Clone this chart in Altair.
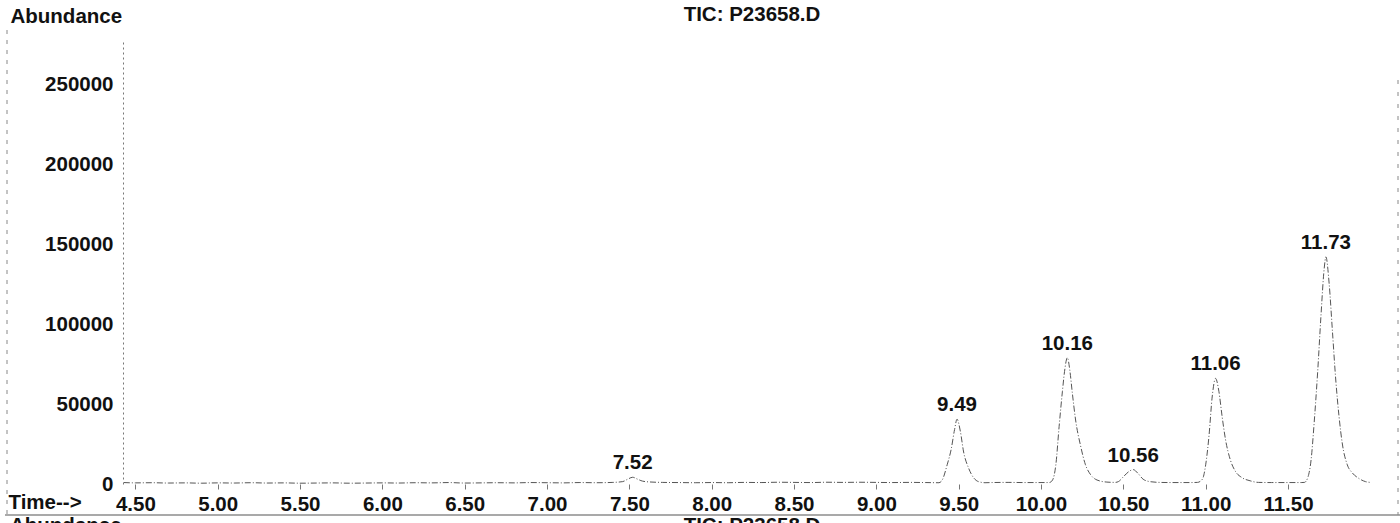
import altair as alt
import pandas as pd

# Trace (retention time in minutes, abundance)
trace_time = [
    4.43, 4.50, 4.60, 4.70, 4.80, 4.90, 5.00, 5.10, 5.20, 5.30, 5.40, 5.50,
    5.60, 5.70, 5.80, 5.90, 6.00, 6.10, 6.20, 6.30, 6.40, 6.50, 6.60, 6.70,
    6.80, 6.90, 7.00, 7.10, 7.20, 7.30, 7.40, 7.46, 7.49, 7.52, 7.55, 7.58,
    7.62, 7.70, 7.80, 7.90, 8.00, 8.10, 8.20, 8.30, 8.40, 8.50, 8.60, 8.70,
    8.80, 8.90, 9.00, 9.10, 9.20, 9.30, 9.38, 9.40, 9.43, 9.455, 9.475, 9.49,
    9.51, 9.53, 9.56, 9.59, 9.62, 9.66, 9.70, 9.80, 9.90, 10.00, 10.05, 10.07,
    10.09, 10.11, 10.13, 10.145, 10.16, 10.175, 10.19, 10.21, 10.24, 10.27, 10.30, 10.34,
    10.40, 10.45, 10.47, 10.50, 10.53, 10.56, 10.59, 10.62, 10.66, 10.72, 10.80, 10.90,
    10.95, 10.98, 11.00, 11.02, 11.04, 11.06, 11.08, 11.10, 11.12, 11.15, 11.18, 11.22,
    11.27, 11.32, 11.40, 11.50, 11.58, 11.60, 11.62, 11.64, 11.66, 11.68, 11.70, 11.72,
    11.73, 11.75, 11.77, 11.79, 11.81, 11.83, 11.86, 11.89, 11.93, 11.97, 12.00,
]
trace_abundance = [
    900, 700, 800, 600, 700, 500, 700, 600, 800, 600, 700, 500,
    600, 700, 500, 600, 700, 600, 800, 700, 900, 600, 700, 800,
    700, 900, 800, 700, 900, 800, 1000, 1500, 3000, 4200, 3000, 1800,
    1300, 1000, 900, 800, 900, 800, 1000, 900, 1100, 1000, 900, 1100,
    1000, 1100, 1000, 900, 1000, 900, 800, 2500, 12000, 22000, 34000, 40500,
    33000, 20000, 10000, 4000, 1500, 800, 900, 1000, 900, 900, 900, 2500,
    12000, 36000, 58000, 72000, 79000, 71000, 57000, 40000, 24000, 12000, 6000, 2500,
    1200, 1000, 1500, 4500, 7500, 9000, 6500, 3000, 1500, 1000, 900, 900,
    1000, 3000, 12000, 30000, 55000, 66000, 58000, 42000, 28000, 15000, 8000, 4000,
    2000, 1000, 900, 900, 900, 1000, 4000, 15000, 40000, 70000, 105000, 135000,
    142000, 125000, 95000, 65000, 42000, 25000, 12000, 7000, 3500, 1500, 1000,
]

# Labelled peaks
peak_time = [7.52, 9.49, 10.16, 10.56, 11.06, 11.73]
peak_abundance = [4200, 40500, 79000, 9000, 66000, 142000]
peak_label = ["7.52", "9.49", "10.16", "10.56", "11.06", "11.73"]

x_ticks = [4.5, 5.0, 5.5, 6.0, 6.5, 7.0, 7.5, 8.0, 8.5, 9.0, 9.5, 10.0, 10.5, 11.0, 11.5]
y_ticks = [0, 50000, 100000, 150000, 200000, 250000]

FONT = "Liberation Sans"
WEIGHT = "bold"
FS = 20.5

trace = pd.DataFrame({"time": trace_time, "abundance": trace_abundance})
peaks = pd.DataFrame({"time": peak_time, "abundance": peak_abundance, "label": peak_label})

x_scale = alt.Scale(domain=[4.425, 12.01], nice=False, zero=False)
y_scale = alt.Scale(domain=[0, 277500], nice=False)

x_axis = alt.Axis(
    values=x_ticks, format=".2f", grid=False, domain=False,
    tickSize=5, tickColor="#777", labelPadding=5,
    labelFont=FONT, labelFontSize=FS, labelFontWeight=WEIGHT, labelColor="#111",
    labelOverlap=False, labelFlush=False,
    title="Time-->", titleFont=FONT, titleFontSize=FS, titleFontWeight=WEIGHT,
    titleColor="#111", titleAnchor="start", titleAlign="left", titleBaseline="middle",
    titleX=-115, titleY=18,
)
y_axis = alt.Axis(
    values=y_ticks, format="d", grid=False, ticks=False,
    domain=True, domainColor="#777", domainDash=[2, 3], domainWidth=1,
    labelPadding=10, labelFont=FONT, labelFontSize=FS, labelFontWeight=WEIGHT, labelColor="#111",
    labelOverlap=False, labelFlush=False,
    title="Abundance", titleFont=FONT, titleFontSize=FS, titleFontWeight=WEIGHT,
    titleColor="#111", titleAngle=0, titleAlign="left", titleBaseline="middle",
    titleAnchor="end", titleX=-113, titleY=-24,
)

line = alt.Chart(trace).mark_line(
    stroke="#555", strokeWidth=1, strokeDash=[6, 2, 1, 2], interpolate="monotone"
).encode(
    x=alt.X("time:Q", scale=x_scale, axis=x_axis),
    y=alt.Y("abundance:Q", scale=y_scale, axis=y_axis),
)

labels = alt.Chart(peaks).mark_text(
    font=FONT, fontSize=FS, fontWeight=WEIGHT, color="#111", baseline="alphabetic", dy=-8
).encode(
    x=alt.X("time:Q", scale=x_scale),
    y=alt.Y("abundance:Q", scale=y_scale),
    text="label:N",
)

# Chromatogram title at the top
title_text = alt.Chart().mark_text(
    text="TIC: P23658.D", font=FONT, fontSize=FS, fontWeight=WEIGHT, color="#111",
    align="center", baseline="middle"
).encode(x=alt.value(629), y=alt.value(-25))

# Page frame lines from the scanned printout
frame_h = alt.Chart().mark_rule(color="#555", strokeWidth=1.2).encode(
    x=alt.value(-118), x2=alt.value(1277), y=alt.value(475)
)
frame_l = alt.Chart().mark_rule(color="#888", strokeWidth=1, strokeDash=[4, 6]).encode(
    x=alt.value(-116), y=alt.value(-10), y2=alt.value(475)
)
frame_r = alt.Chart().mark_rule(color="#888", strokeWidth=1, strokeDash=[4, 8]).encode(
    x=alt.value(1275), y=alt.value(40), y2=alt.value(475)
)

# Top of the next (cut-off) chromatogram
next_abund = alt.Chart().mark_text(
    text="Abundance", font=FONT, fontSize=FS, fontWeight=WEIGHT, color="#111",
    align="left", baseline="top"
).encode(x=alt.value(-113), y=alt.value(476))
next_title = alt.Chart().mark_text(
    text="TIC: P23658.D", font=FONT, fontSize=FS, fontWeight=WEIGHT, color="#111",
    align="center", baseline="top"
).encode(x=alt.value(629), y=alt.value(476))

chart = alt.layer(
    line, labels, title_text, frame_h, frame_l, frame_r, next_abund, next_title
).properties(
    width=1249,
    height=444,
    padding={"left": 123, "top": 40, "right": 28, "bottom": 39},
    autosize="none",
    background="white",
).configure_view(strokeWidth=0)

chart.save("out.html", embed_options={"renderer": "svg", "actions": False})
